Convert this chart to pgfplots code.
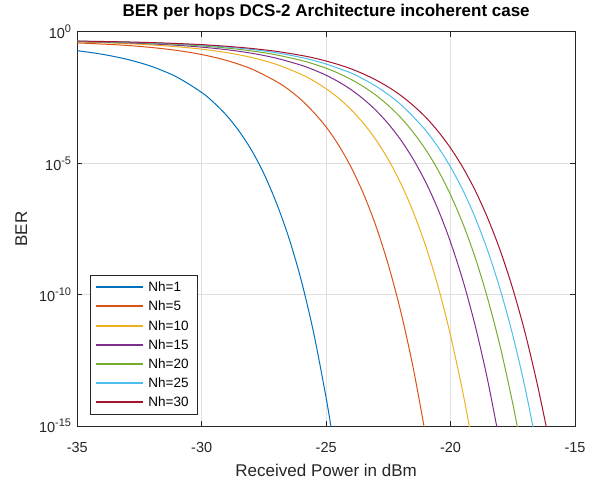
\documentclass[border=0pt]{standalone}
\usepackage{fontspec}
\setmainfont{Liberation Sans}
\usepackage{pgfplots}
\pgfplotsset{compat=1.18}
\definecolor{c1}{rgb}{0,0.447,0.741}
\definecolor{c2}{rgb}{0.850,0.325,0.098}
\definecolor{c3}{rgb}{0.929,0.694,0.125}
\definecolor{c4}{rgb}{0.494,0.184,0.556}
\definecolor{c5}{rgb}{0.466,0.674,0.188}
\definecolor{c6}{rgb}{0.301,0.745,0.933}
\definecolor{c7}{rgb}{0.635,0.078,0.184}
\definecolor{axc}{RGB}{38,38,38}
\definecolor{gridc}{RGB}{223,223,223}
\newcommand{\pw}[1]{10\raisebox{0.42em}{\fontsize{11}{11}\selectfont #1}}
\begin{document}
\begin{tikzpicture}
\useasboundingbox (0,0) rectangle (603pt,479pt);
\begin{axis}[
  at={(77.3pt,53pt)}, anchor=south west,
  scale only axis, width=497.7pt, height=394pt,
  xmin=-35, xmax=-15, ymode=log, ymin=1e-15, ymax=1,
  xtick={-35,-30,-25,-20,-15}, xticklabels={-35,-30,-25,-20,-15},
  ytick={1e-15,1e-10,1e-5,1}, yticklabels={\pw{-15},\pw{-10},\pw{-5},\pw{0}},
  xminorticks=false, yminorticks=false,
  tick align=inside, major tick length=5pt,
  grid=major, major grid style={gridc, line width=1pt},
  axis line style={axc, line width=1pt}, tick style={axc, line width=1pt},
  every tick label/.append style={text=axc, font=\fontsize{14.5}{14.5}\selectfont},
  xticklabel style={anchor=base, yshift=-26pt, inner sep=0pt},
  yticklabel style={anchor=east, xshift=-6pt, inner sep=0pt},
  title={BER per hops DCS-2 Architecture incoherent case},
  title style={at={([yshift=9pt]axis description cs:0.5,1)}, anchor=base, inner sep=0pt, text=black, font=\bfseries\fontsize{17}{17}\selectfont},
  xlabel={Received Power in dBm},
  xlabel style={at={([yshift=-50pt]axis description cs:0.5,0)}, anchor=base, inner sep=0pt, text=axc, font=\fontsize{17}{17}\selectfont},
  ylabel={BER},
  ylabel style={at={([xshift=-56pt]axis description cs:0,0.5)}, anchor=center, inner sep=0pt, text=axc, font=\fontsize{17}{17}\selectfont},
  legend style={at={([xshift=12.7pt,yshift=11.7pt]axis description cs:0,0)}, anchor=south west, draw=axc, line width=0.8pt, fill=white, font=\fontsize{13.5}{13.5}\selectfont, inner xsep=5pt, inner ysep=2pt, row sep=0pt, nodes={inner xsep=4pt, inner ysep=1.75pt, text height=12.5pt, text depth=3.2pt, anchor=west, text=black}},
  legend cell align=left,
  legend image code/.code={\draw[#1, line width=2pt] (0pt,0pt) -- (47pt,0pt);},
  every axis plot/.append style={line width=1pt, smooth},
]
\addplot[c1] table {
x y
-35 0.1945
-34 0.1422
-33 0.0912
-32 0.0483
-31 0.01928
-30 4.98e-3
-29.5 2.00e-3
-29 6.64e-4
-28.5 1.69e-4
-28 3.18e-5
-27.5 4.01e-6
-27 3.12e-7
-26.5 1.48e-8
-26 3.48e-10
-25.5 3.44e-12
-25 1.17e-14
-24.75 4.34e-16
};
\addplot[c2] table {
x y
-35 0.384
-34 0.348
-33 0.308
-32 0.256
-31 0.199
-30 0.1387
-29 0.0826
-28 0.0393
-27 0.01306
-26.5 6.37e-3
-26 2.60e-3
-25.5 8.77e-4
-25 2.42e-4
-24.5 4.93e-5
-24 7.21e-6
-23.5 6.93e-7
-23 4.13e-8
-22.5 1.35e-9
-22 2.24e-11
-21.5 1.60e-13
-21 4.34e-16
};
\addplot[c3] table {
x y
-35 0.417
-34 0.393
-33 0.360
-32 0.321
-31 0.275
-30 0.222
-29 0.164
-28 0.1074
-27 0.0583
-26 0.0244
-25.5 0.01374
-25 6.92e-3
-24.5 3.04e-3
-24 1.11e-3
-23.5 3.33e-4
-23 7.91e-5
-22.5 1.38e-5
-22 1.72e-6
-21.5 1.40e-7
-21 7.14e-9
-20.5 2.01e-10
-20 2.77e-12
-19.5 1.77e-14
-19.25 1.0e-15
-19.1 1.55e-16
};
\addplot[c4] table {
x y
-35 0.431
-34 0.412
-33 0.385
-32 0.352
-31 0.313
-30 0.265
-29 0.212
-28 0.156
-27 0.1007
-26 0.0542
-25.5 0.0362
-25 0.02254
-24.5 0.01271
-24 6.40e-3
-23.5 2.79e-3
-23 1.04e-3
-22.5 3.18e-4
-22 7.78e-5
-21.5 1.43e-5
-21 1.92e-6
-20.5 1.74e-7
-20 9.93e-9
-19.5 3.35e-10
-19 6.0e-12
-18.5 4.98e-14
-18 1.82e-16
};
\addplot[c5] table {
x y
-35 0.441
-34 0.423
-33 0.402
-32 0.372
-31 0.337
-30 0.294
-29 0.245
-28 0.1905
-27 0.1346
-26 0.0826
-25.5 0.0604
-25 0.0418
-24.5 0.0267
-24 0.01570
-23.5 8.32e-3
-23 3.93e-3
-22.5 1.59e-3
-22 5.48e-4
-21.5 1.51e-4
-21 3.34e-5
-20.5 5.44e-6
-20 6.30e-7
-19.5 4.93e-8
-19 2.40e-9
-18.5 6.59e-11
-18 9.93e-13
-17.5 7.10e-15
-17.2 2.46e-16
};
\addplot[c6] table {
x y
-35 0.446
-34 0.431
-33 0.411
-32 0.385
-31 0.352
-30 0.315
-29 0.268
-28 0.217
-27 0.1618
-26 0.1076
-25.5 0.0822
-25 0.0605
-24.5 0.0411
-24 0.0276
-23.5 0.01607
-23 8.67e-3
-22.5 4.14e-3
-22 1.73e-3
-21.5 5.94e-4
-21 1.79e-4
-20.5 4.14e-5
-20 7.21e-6
-19.5 9.29e-7
-19 8.09e-8
-18.5 4.49e-9
-18 1.51e-10
-17.5 2.84e-12
-17 2.67e-14
-16.5 1.14e-16
};
\addplot[c7] table {
x y
-35 0.451
-34 0.436
-33 0.418
-32 0.395
-31 0.365
-30 0.331
-29 0.286
-28 0.237
-27 0.1832
-26 0.1285
-25.5 0.1028
-25 0.0785
-24.5 0.0573
-24 0.0397
-23.5 0.0252
-23 0.01489
-22.5 8.01e-3
-22 3.84e-3
-21.5 1.59e-3
-21 5.69e-4
-20.5 1.64e-4
-20 3.81e-5
-19.5 6.79e-6
-19 8.83e-7
-18.5 7.85e-8
-18 4.67e-9
-17.5 1.67e-10
-17 3.37e-12
-16.5 3.35e-14
-16 1.82e-16
};
\legend{Nh=1,Nh=5,Nh=10,Nh=15,Nh=20,Nh=25,Nh=30}
\end{axis}
\end{tikzpicture}
\end{document}
